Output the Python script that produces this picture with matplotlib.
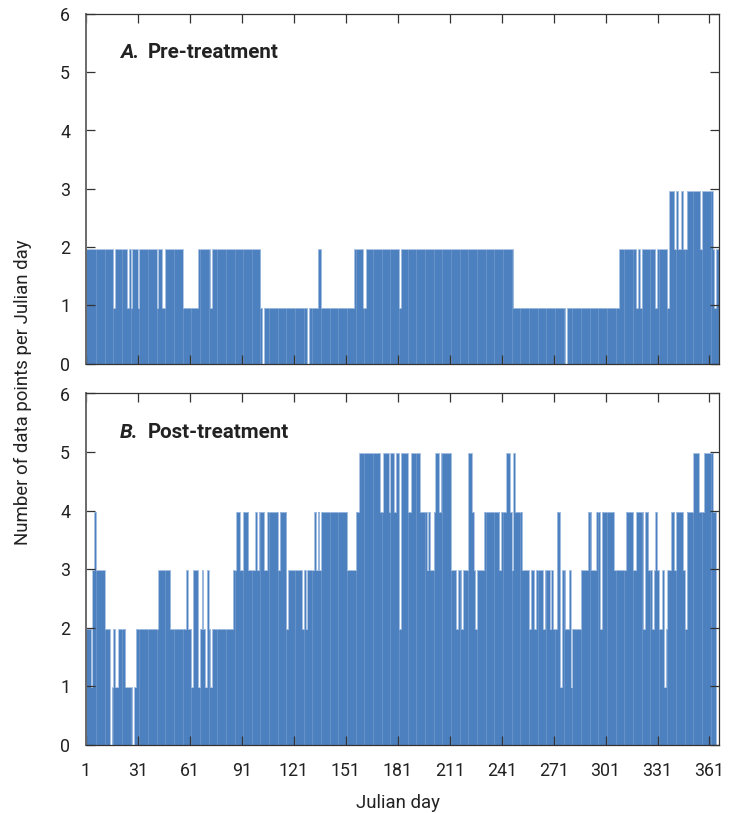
import numpy as np
import matplotlib
matplotlib.use("Agg")
import matplotlib.pyplot as plt
from matplotlib import font_manager as fm

names = {f.name for f in fm.fontManager.ttflist}
FONT = "Liberation Sans Narrow" if "Liberation Sans Narrow" in names else "Roboto"

# Daily counts as run lengths: value, number of consecutive days (day 1 onward)
pre_values = [2,1,2,1,2,1,2,1,2,1,2,1,2,1,2,1,2,1,0,1,0,1,2,1,2,1,2,1,2,1,0,1,2,1,2,1,2,1,2,1,3,2,3,2,3,2,3,2,3,2,1,2]
pre_runs   = [16,1,7,1,1,1,3,1,10,1,2,2,10,9,7,1,28,1,1,25,1,5,2,19,5,2,19,1,65,30,1,30,10,1,1,1,8,1,6,1,3,1,1,2,1,2,8,1,6,1,1,2]

post_values = [2,1,3,4,3,2,0,1,2,1,2,1,0,1,2,3,2,3,2,1,3,1,2,3,2,1,3,2,1,2,3,4,3,4,3,4,3,4,3,4,3,4,2,
               3,2,3,2,3,4,3,4,3,4,3,4,5,4,5,4,5,4,5,2,5,4,5,4,3,4,3,4,5,4,5,3,2,3,2,3,5,4,3,2,3,4,3,4,5,4,3,5,4,
               3,2,3,2,3,2,3,2,3,2,4,1,3,2,3,1,2,3,4,3,4,2,4,3,4,3,4,2,4,3,2,3,4,3,2,3,1,2,3,4,3,4,3,2,4,5,4,5,4,0]
post_runs   = [3,1,1,1,5,3,1,1,1,2,4,4,1,1,13,7,9,1,2,1,3,1,1,1,1,1,1,1,1,12,2,2,2,3,4,1,1,3,2,6,1,4,1,
               8,1,1,1,4,1,1,1,1,15,5,2,12,2,3,1,2,1,2,1,4,2,5,4,1,1,2,1,2,1,6,3,1,2,1,3,2,1,1,1,4,9,1,3,2,1,1,1,4,
               4,1,2,1,4,1,3,1,1,2,2,1,2,2,1,1,5,4,2,3,2,1,7,7,4,2,4,1,2,2,1,1,1,1,2,1,1,1,2,2,1,4,1,1,4,3,3,5,2,2]

x_ticks = [1,31,61,91,121,151,181,211,241,271,301,331,361]
y_ticks = [0,1,2,3,4,5,6]
y_label = "Number of data points per Julian day"
x_label = "Julian day"
panel_letters = ["A.", "B."]
panel_titles = ["Pre-treatment", "Post-treatment"]

pre = np.repeat(pre_values, pre_runs)
post = np.repeat(post_values, post_runs)

W, H = 733, 813
BAR = "#4C80BF"
EDGE = "#A4BFE2"
fig = plt.figure(figsize=(W/100, H/100), dpi=100)
plt.rcParams["font.family"] = [FONT, "DejaVu Sans"]

def make_ax(top, bottom, left=86, right=718.5):
    return fig.add_axes([left/W, 1-bottom/H, (right-left)/W, (bottom-top)/H])

def panel(ax, vals, drop, letter, title, title_y, show_x):
    n = len(vals)
    edges = np.arange(1, n+2) - 0.25
    h = vals - drop
    h = np.where(vals == 0, 0, h)
    ax.fill_between(edges, np.r_[h, h[-1]], 0, step="post", color=BAR, lw=0, zorder=2)
    ax.step(edges, np.r_[h, h[-1]], where="post", color=EDGE, lw=0.6, zorder=2.1)
    seam_days = np.arange(5, n-1, 5)
    seam_x = edges[seam_days + 1]
    seam_h = np.minimum(h[seam_days], h[seam_days + 1])
    ax.vlines(seam_x, 0, seam_h, color="white", alpha=0.15, lw=0.8, zorder=2.2)
    ax.set_xlim(1, 366.2)
    ax.set_ylim(0, 6)
    ax.set_xticks(x_ticks)
    ax.set_yticks(y_ticks)
    ax.tick_params(axis="both", direction="in", length=6.5, width=0.9, color="#333333",
                   top=True, right=True, labelsize=12.8, labelcolor="#222222", pad=11.5)
    ax.tick_params(axis="x", labelbottom=show_x, pad=12)
    ax.set_axisbelow(False)
    for s in ("top", "right", "bottom"):
        ax.spines[s].set_color("#333333")
        ax.spines[s].set_linewidth(0.9)
    ax.spines["left"].set_color("#6a6a6a")
    ax.spines["left"].set_linewidth(1.4)
    for sp in ax.spines.values():
        sp.set_zorder(5)
    fig.text(120/W, 1-title_y/H, letter, fontsize=14.8, fontweight="bold", style="italic",
             color="#222222", va="baseline", ha="left")
    fig.text(148/W, 1-title_y/H, title, fontsize=14.8, fontweight="bold",
             color="#222222", va="baseline", ha="left")

ax_a = make_ax(14, 363.5)
ax_b = make_ax(393.5, 745)
panel(ax_a, pre, 0.04, panel_letters[0], panel_titles[0], 58, False)
panel(ax_b, post, 0.015, panel_letters[1], panel_titles[1], 438, True)

fig.text(398/W, 1-803/H, x_label, fontsize=13.4, color="#222222", ha="center", va="center")
fig.text(23/W, 1-392/H, y_label, fontsize=13.4, color="#222222", rotation=90, ha="center", va="center")

fig.savefig("out.png", dpi=100)
